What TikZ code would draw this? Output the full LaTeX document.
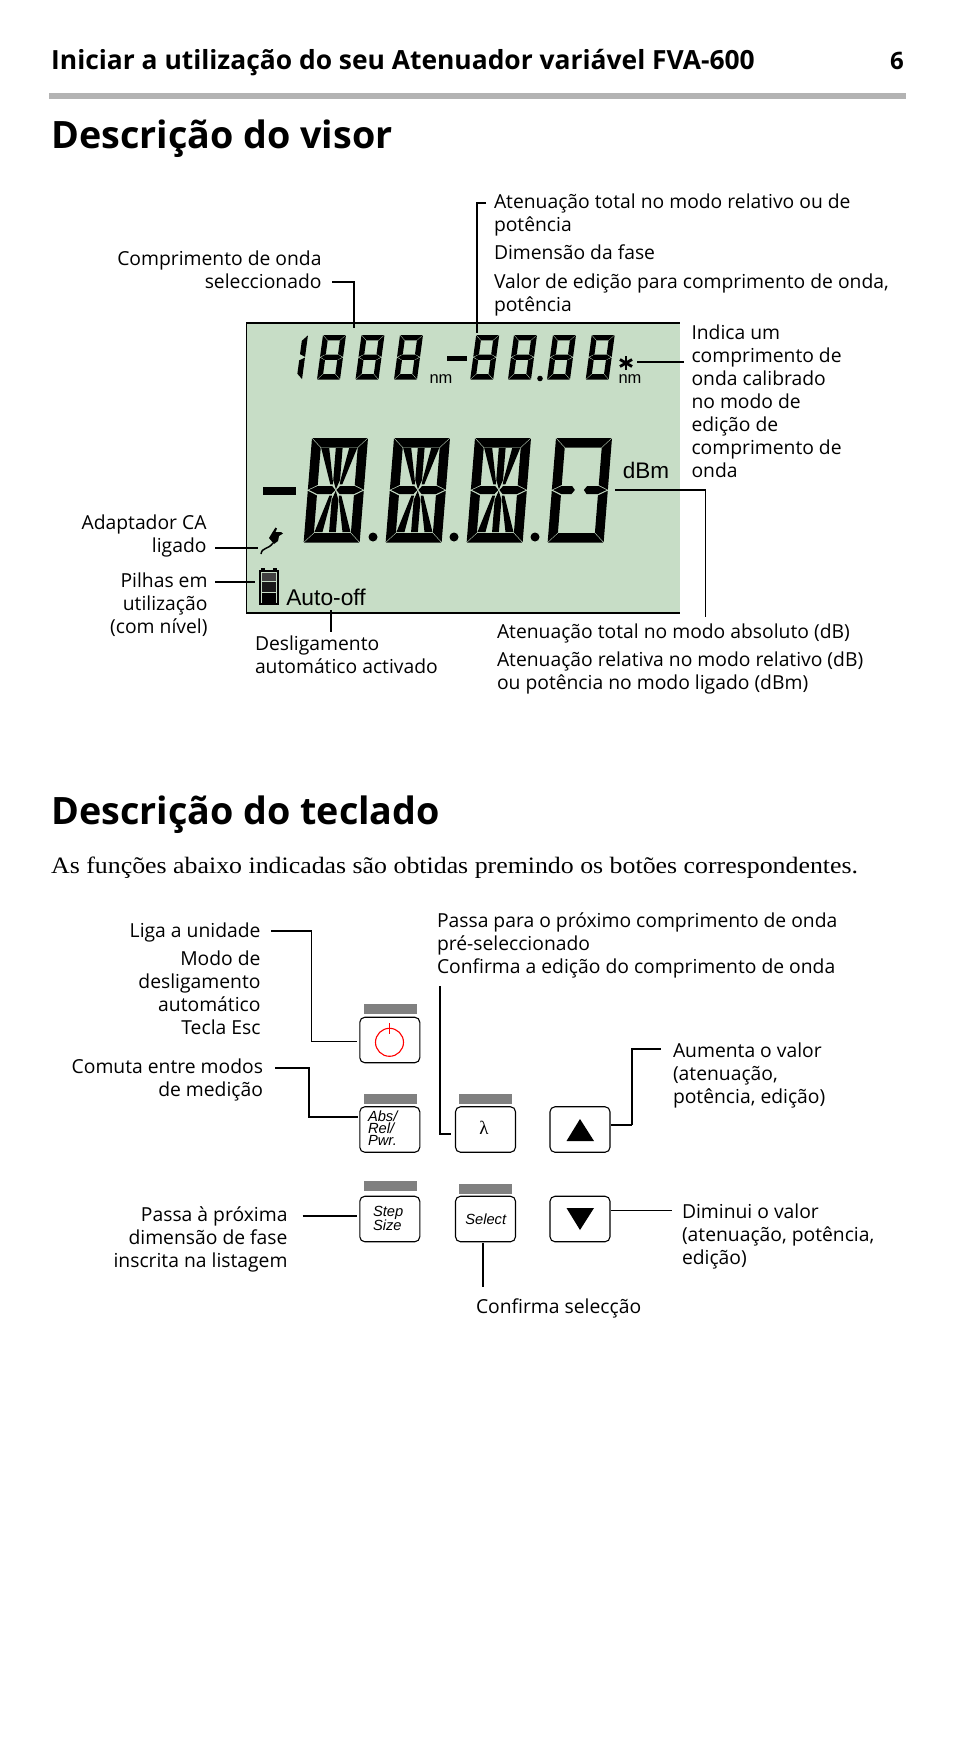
\documentclass[tikz,border=0pt]{standalone}
\usepackage{fontspec}
\setmainfont{Open Sans}
\newfontfamily\lsans{Liberation Sans}
\newfontfamily\lserif{Liberation Serif}
\newfontfamily\lserifwide[FakeStretch=1.1]{Liberation Serif}
\definecolor{lcdgreen}{HTML}{C7DDC6}
\definecolor{rulegray}{HTML}{B3B3B3}
\definecolor{bargray}{HTML}{808080}
\tikzset{
  lab/.style={inner sep=0pt,outer sep=0pt,font={\fontsize{19.3}{23}\selectfont}},
  conn/.style={line width=1.2pt,black},
  connthick/.style={line width=2pt,black},
  keybtn/.style={draw=black,line width=1.1pt,rounded corners=5pt,minimum width=60pt,minimum height=45.5pt,inner sep=0pt,outer sep=0pt,fill=white},
  bar/.style={fill=bargray,inner sep=0pt,outer sep=0pt,minimum width=53pt,minimum height=10pt},
  keytext/.style={inner sep=0pt,outer sep=0pt,align=left,font={\lsans\itshape\fontsize{14.7}{12.3}\selectfont}},
  lcdtext/.style={inner sep=0pt,outer sep=0pt,font={\lsans\fontsize{#1}{#1}\selectfont}},
}
\newcommand\lblL[4]{\node[lab,align=left,anchor=north west] (#1) at (#2,{#3-18}) {\rule{0pt}{18pt}#4};}
\newcommand\lblR[4]{\node[lab,align=right,anchor=north east] (#1) at (#2,{#3-18}) {\rule{0pt}{18pt}#4};}
\newcommand\outerSegs{%
  \fill ({\G},0) -- ({\W-\G},0) -- ({\W-\T-\G},\T) -- ({\T+\G},\T) -- cycle;
  \fill ({\G},\H) -- ({\W-\G},\H) -- ({\W-\T-\G},{\H-\T}) -- ({\T+\G},{\H-\T}) -- cycle;
  \fill (0,\G) -- (\T,{\T+\G}) -- (\T,{\H/2-\T/2-\G}) -- (0,{\H/2-\G}) -- cycle;
  \fill (0,{\H-\G}) -- (\T,{\H-\T-\G}) -- (\T,{\H/2+\T/2+\G}) -- (0,{\H/2+\G}) -- cycle;
  \rightSegs}
\newcommand\rightSegs{%
  \fill (\W,\G) -- ({\W-\T},{\T+\G}) -- ({\W-\T},{\H/2-\T/2-\G}) -- (\W,{\H/2-\G}) -- cycle;
  \fill (\W,{\H-\G}) -- ({\W-\T},{\H-\T-\G}) -- ({\W-\T},{\H/2+\T/2+\G}) -- (\W,{\H/2+\G}) -- cycle;}
\newcommand\midFull{%
  \fill ({\G+.5},{\H/2}) -- (\T,{\H/2-\T/2}) -- ({\W-\T},{\H/2-\T/2}) -- ({\W-\G-.5},{\H/2}) -- ({\W-\T},{\H/2+\T/2}) -- (\T,{\H/2+\T/2}) -- cycle;}
\newcommand\smallEight[1]{\begin{scope}[shift={(#1,335)},xslant=.135]\def\W{23}\def\H{44.5}\def\T{5.4}\def\G{.4}\outerSegs\midFull\end{scope}}
\newcommand\smallOne[1]{\begin{scope}[shift={(#1,335)},xslant=.135]\def\W{23}\def\H{44.5}\def\T{5.4}\def\G{.4}\rightSegs\end{scope}}
\newcommand\diagOnly{\fill (-18,-42) -- (-10,-42) -- (-3.9,-10) -- (-3.4,-5.6) -- (-6,-5.6) -- cycle;}
\newcommand\diagQuad{%
  \diagOnly
  \fill (-3.4,-42) -- (3.4,-42) -- (3.4,-10) -- (0,-.8) -- (-3.4,-10) -- cycle;}
\newcommand\bigFourteen[1]{\begin{scope}[shift={(#1,438)},xslant=.08]\def\W{56}\def\H{104.5}\def\T{9.5}\def\G{.5}\outerSegs
  \fill (1.2,52) -- (9.5,48) -- (24,48) -- (27.4,52) -- (24,56) -- (9.5,56) -- cycle;
  \fill (54.8,52) -- (46.5,48) -- (32,48) -- (28.6,52) -- (32,56) -- (46.5,56) -- cycle;
  \begin{scope}[shift={(28,52)}]\diagQuad\end{scope}
  \begin{scope}[shift={(28,52)},xscale=-1]\diagOnly\end{scope}
  \begin{scope}[shift={(28,52)},yscale=-1]\diagQuad\end{scope}
  \begin{scope}[shift={(28,52)},xscale=-1,yscale=-1]\diagOnly\end{scope}
\end{scope}}
\newcommand\bigLast[1]{\begin{scope}[shift={(#1,438)},xslant=.08]\def\W{56}\def\H{104.5}\def\T{9.5}\def\G{.5}\outerSegs
  \fill (1.2,52) -- (9.5,48) -- (20,48) -- (23,52) -- (20,56) -- (9.5,56) -- cycle;
  \fill (54.8,52) -- (46.5,48) -- (35,48) -- (32,52) -- (35,56) -- (46.5,56) -- cycle;
\end{scope}}
\begin{document}
\begin{tikzpicture}[x=1pt,y=-1pt]
\useasboundingbox (0,0) rectangle (954,1738);
\fill[white] (0,0) rectangle (954,1738);

% header
\node[inner sep=0,anchor=base west,font={\bfseries\fontsize{26.4}{30}\selectfont}] (header) at (51,69) {Iniciar a utilização do seu Atenuador variável FVA-600};
\node[inner sep=0,anchor=base east,font={\bfseries\fontsize{24}{30}\selectfont}] (pageno) at (904,69) {6};
\fill[rulegray] (49,93) rectangle (906,99);
\node[inner sep=0,anchor=base west,font={\bfseries\fontsize{37.7}{44}\selectfont}] (h1) at (51,148) {Descrição do visor};
\node[inner sep=0,anchor=base west,font={\bfseries\fontsize{37.7}{44}\selectfont}] (h2) at (51,824) {Descrição do teclado};
\node[inner sep=0,anchor=base west,font={\lserifwide\fontsize{23.5}{26}\selectfont}] (intro) at (51,873) {As funções abaixo indicadas são obtidas premindo os botões correspondentes.};

% LCD
\node[fill=lcdgreen,inner sep=0,outer sep=0,minimum width=433pt,minimum height=290pt] (lcd) at (463,468) {};
\draw[conn] (lcd.north east) -- (lcd.north west) -- (lcd.south west) -- (lcd.south east);

% small digits
\smallOne{285}\smallEight{323}\smallEight{361.5}\smallEight{400}
\fill (447,356) rectangle (467,361);
\smallEight{476.2}\smallEight{514}\smallEight{553}\smallEight{591.7}
\fill (540,378.5) circle (2.8);
\node[lcdtext=16.5,anchor=center] (nm1) at (441,379) {nm};
\node[lcdtext=16.5,anchor=center] (nm2) at (630,379) {nm};
\node[inner sep=0,outer sep=0,minimum size=10pt] (star) at (626,363) {};
\foreach \a in {90,30,-30} {\draw[line width=2.8pt] (star.center) ++(\a:7) -- ++(\a+180:14);}

% big digits
\fill (263,487) rectangle (296,495);
\bigFourteen{312}\bigFourteen{394}\bigFourteen{475}\bigLast{556}
\fill (373,537) circle (4.5);
\fill (454,537) circle (4.5);
\fill (535,537) circle (4.5);
\node[lcdtext=22.5,anchor=center] (dbm) at (646,470) {dBm};
\node[lcdtext=22.8,anchor=center] (autooff) at (326,597) {Auto-off};

% plug
\draw[line width=1.5pt] (261,554) .. controls (262,547) and (268,550) .. (273,543);
\fill (269,538) -- (272,533) -- (275.5,527.5) -- (277,528.5) -- (275.5,532) -- (281,532) -- (283,533.5) -- (279,536) -- (278,541) -- (274,544) -- cycle;
% battery
\fill (261,568) rectangle (265,572);
\fill (273,568) rectangle (277,572);
\draw[line width=2pt] (260,571) rectangle (278,604);
\fill[black!75] (262,573) rectangle (276,581);
\fill[black!90] (262,582) rectangle (276,592);
\fill (262,593) rectangle (276,603);

% upper labels
\lblL{lTot}{494}{208.5}{Atenuação total no modo relativo ou de\\potência}
\lblL{lDim}{494}{259}{Dimensão da fase}
\lblL{lVal}{494}{288}{Valor de edição para comprimento de onda,\\potência}
\lblR{lComp}{321.5}{265}{Comprimento de onda\\seleccionado}
\lblL{lInd}{691.5}{339.5}{Indica um\\comprimento de\\onda calibrado\\no modo de\\edição de\\comprimento de\\onda}
\lblR{lAd}{206.5}{529}{Adaptador CA\\ligado}
\lblR{lPil}{207.5}{587}{Pilhas em\\utilização\\(com nível)}
\lblL{lDes}{255}{650.5}{Desligamento\\automático activado}
\lblL{lAbs}{497}{638}{Atenuação total no modo absoluto (dB)}
\lblL{lRel}{497}{666.5}{Atenuação relativa no modo relativo (dB)\\ou potência no modo ligado (dBm)}

% upper connectors
\coordinate (c1a) at (332,282); \coordinate (c1b) at (354,282); \coordinate (c1c) at (354,328);
\draw[conn] (c1a) -- (c1b) -- (c1c);
\coordinate (c2a) at (486,203); \coordinate (c2b) at (477,203); \coordinate (c2c) at (477,333);
\draw[conn] (c2a) -- (c2b) -- (c2c);
\coordinate (c3a) at (637,362); \coordinate (c3b) at (684,362);
\draw[conn] (c3a) -- (c3b);
\coordinate (c4a) at (615,490); \coordinate (c4b) at (705.5,490); \coordinate (c4c) at (705.5,617);
\draw[conn] (c4a) -- (c4b) -- (c4c);
\coordinate (c5a) at (215,548); \coordinate (c5b) at (258,548);
\draw[conn] (c5a) -- (c5b);
\coordinate (c6a) at (215,582); \coordinate (c6b) at (255,582);
\draw[conn] (c6a) -- (c6b);
\coordinate (c7a) at (331,610); \coordinate (c7b) at (331,632);
\draw[conn] (c7a) -- (c7b);

% keys
\node[bar] (bPow) at (390,1009) {};
\node[bar] (bAbs) at (390,1099) {};
\node[bar] (bLam) at (485,1099) {};
\node[bar] (bStep) at (390,1186) {};
\node[bar] (bSel) at (485,1189) {};
\node[keybtn] (kPow) at (389.8,1040) {};
\node[keybtn] (kAbs) at (389.8,1129.5) {};
\node[keybtn] (kLam) at (485.5,1129.5) {};
\node[keybtn] (kUp) at (580,1129.5) {};
\node[keybtn] (kStep) at (389.8,1219) {};
\node[keybtn] (kSel) at (485.5,1219) {};
\node[keybtn] (kDn) at (580,1219) {};

\draw[red,line width=1.1pt] (389.5,1042.3) circle (14);
\draw[red,line width=1.1pt] (389.5,1023) -- (389.5,1034);
\fill (580,1119) -- (594,1141) -- (566.5,1141) -- cycle;
\fill (566.5,1208) -- (594,1208) -- (580,1230) -- cycle;
\node[keytext,anchor=north west] (tAbs) at (368,1110) {\rule{0pt}{11pt}Abs/\\Rel/\\Pwr.};
\node[inner sep=0,font={\lserif\fontsize{19}{19}\selectfont}] (tLam) at (484,1128) {λ};
\node[keytext,anchor=north west,font={\lsans\itshape\fontsize{14.7}{14.5}\selectfont}] (tStep) at (373,1205) {\rule{0pt}{11pt}Step\\Size};
\node[keytext,anchor=center] (tSel) at (485.7,1219) {Select};

% lower labels
\lblR{lLiga}{260.5}{937}{Liga a unidade}
\lblR{lModo}{260.5}{965}{Modo de\\desligamento\\automático\\Tecla Esc}
\lblR{lCom}{263}{1073}{Comuta entre modos\\de medição}
\lblL{lPas}{437}{927}{Passa para o próximo comprimento de onda\\pré-seleccionado\\Confirma a edição do comprimento de onda}
\lblL{lAum}{673}{1057.5}{Aumenta o valor\\(atenuação,\\potência, edição)}
\lblR{lProx}{287.5}{1221}{Passa à próxima\\dimensão de fase\\inscrita na listagem}
\lblL{lDim2}{682}{1218}{Diminui o valor\\(atenuação, potência,\\edição)}
\lblL{lConf}{476}{1313}{Confirma selecção}

% lower connectors
\coordinate (k1a) at (271,931); \coordinate (k1b) at (311.5,931); \coordinate (k1c) at (311.5,1041.5); \coordinate (k1d) at (357,1041.5);
\draw[conn] (k1a) -- (k1b) -- (k1c) -- (k1d);
\coordinate (k2a) at (275,1068); \coordinate (k2b) at (309,1068); \coordinate (k2c) at (309,1117); \coordinate (k2d) at (358,1117);
\draw[conn] (k2a) -- (k2b) -- (k2c) -- (k2d);
\coordinate (k3a) at (440,986); \coordinate (k3b) at (440,1134); \coordinate (k3c) at (451,1134);
\draw[conn] (k3a) -- (k3b) -- (k3c);
\coordinate (k4a) at (611,1125); \coordinate (k4b) at (632,1125); \coordinate (k4c) at (632,1049); \coordinate (k4d) at (661,1049);
\draw[connthick] (k4a) -- (k4b);
\draw[conn,line width=1.5pt] (k4b) -- (k4c) -- (k4d);
\coordinate (k5a) at (302.5,1215.7); \coordinate (k5b) at (357,1215.7);
\draw[connthick] (k5a) -- (k5b);
\coordinate (k6a) at (483,1243); \coordinate (k6b) at (483,1287);
\draw[conn] (k6a) -- (k6b);
\coordinate (k7a) at (611,1210.7); \coordinate (k7b) at (671.5,1210.7);
\draw[conn,line width=1.5pt] (k7a) -- (k7b);
\end{tikzpicture}
\end{document}
